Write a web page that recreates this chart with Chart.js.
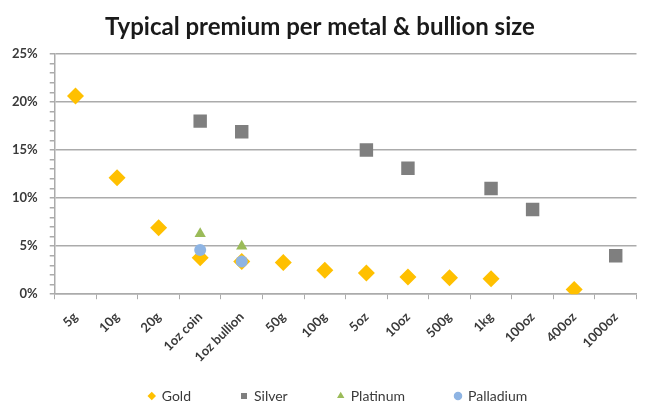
<!DOCTYPE html>
<html>
<head>
<meta charset="utf-8">
<script src="https://cdn.jsdelivr.net/npm/chart.js@4.4.0/dist/chart.umd.min.js"></script>
<style>
    html, body { margin: 0; padding: 0; background: #fff; }
    #wrap { width: 646px; height: 403px; }
</style>
</head>
<body>
<div id="wrap"><canvas id="premiumChart"></canvas></div>
<script>
// Bullion sizes on the x axis
const sizes = ['5g', '10g', '20g', '1oz coin', '1oz bullion', '50g', '100g', '5oz', '10oz', '500g', '1kg', '100oz', '400oz', '1000oz'];

// Premium in % (null = no value for that size)
const gold      = [20.6, 12.1, 6.9, 3.8, 3.4, 3.3, 2.5, 2.2, 1.8, 1.7, 1.6, null, 0.5, null];
const silver    = [null, null, null, 18.0, 16.9, null, null, 15.0, 13.1, null, 11.0, 8.8, null, 4.0];
const platinum  = [null, null, null, 6.3, 5.0, null, null, null, null, null, null, null, null, null];
const palladium = [null, null, null, 4.6, 3.4, null, null, null, null, null, null, null, null, null];

const yTicks = [0, 5, 10, 15, 20, 25];

const colors = {
    gold: '#FFC000',
    silver: '#7F7F7F',
    platinum: '#9BBB59',
    palladium: '#8EB4E3',
    grid: '#ABABAB',
    text: '#3a3a3a'
};

const font = "'Lato', 'Open Sans', sans-serif";

// the legend sits low and a little right, with wide gaps between items
const legendPlace = {
    id: 'legendPlace',
    afterLayout(chart) {
        const lg = chart.legend;
        lg.left += 18;
        lg.right += 18;
        lg.top = 339;
        lg.bottom = chart.height;
    }
};

function series(label, data, color, style, radius, order) {
    return {
        label: label,
        data: data,
        showLine: false,
        pointStyle: style,
        pointRadius: radius,
        pointHoverRadius: radius,
        pointBackgroundColor: color,
        pointBorderColor: color,
        backgroundColor: color,
        borderColor: color,
        pointBorderWidth: 0,
        order: order
    };
}

const ctx = document.getElementById('premiumChart').getContext('2d');
const chart = new Chart(ctx, {
    type: 'line',
    data: {
        labels: sizes,
        datasets: [
            series('Gold', gold, colors.gold, 'rectRot', 8.5, 4),
            series('Silver', silver, colors.silver, 'rect', 9.5, 3),
            series('Platinum', platinum, colors.platinum, 'triangle', 6.5, 2),
            series('Palladium', palladium, colors.palladium, 'circle', 6, 1)
        ]
    },
    options: {
        responsive: true,
        maintainAspectRatio: false,
        animation: false,
        layout: {
            padding: { left: 0, right: 6, top: 0, bottom: 0 }
        },
        plugins: {
            title: {
                display: true,
                text: 'Typical premium per metal & bullion size',
                color: '#1a1a1a',
                font: { family: font, size: 24, weight: 'bold' },
                padding: { top: 13, bottom: 12 }
            },
            legend: {
                position: 'bottom',
                maxHeight: 28,
                labels: {
                    usePointStyle: true,
                    boxWidth: 6,
                    boxHeight: 6,
                    padding: 50,
                    color: colors.text,
                    font: { family: font, size: 14 },
                    sort: (a, b) => a.datasetIndex - b.datasetIndex
                }
            },
            tooltip: { enabled: false }
        },
        scales: {
            x: {
                offset: true,
                grid: {
                    offset: true,
                    drawOnChartArea: false,
                    tickLength: 5,
                    color: colors.grid
                },
                border: { color: colors.grid, width: 1.5 },
                ticks: {
                    autoSkip: false,
                    minRotation: 45,
                    maxRotation: 45,
                    padding: 10,
                    color: colors.text,
                    font: { family: font, size: 13, weight: 'bold' }
                }
            },
            y: {
                min: 0,
                max: 25,
                grid: {
                    tickLength: 5,
                    lineWidth: 1.5,
                    color: (c) => yTicks.includes(c.tick.value) ? colors.grid : 'rgba(0,0,0,0)',
                    tickColor: colors.grid
                },
                border: { color: colors.grid, width: 1.5 },
                ticks: {
                    stepSize: 1,
                    autoSkip: false,
                    padding: 12,
                    color: colors.text,
                    font: { family: font, size: 13, weight: 'bold' },
                    callback: (v) => yTicks.includes(v) ? v + '%' : ''
                }
            }
        }
    },
    plugins: [legendPlace]
});
</script>
</body>
</html>
